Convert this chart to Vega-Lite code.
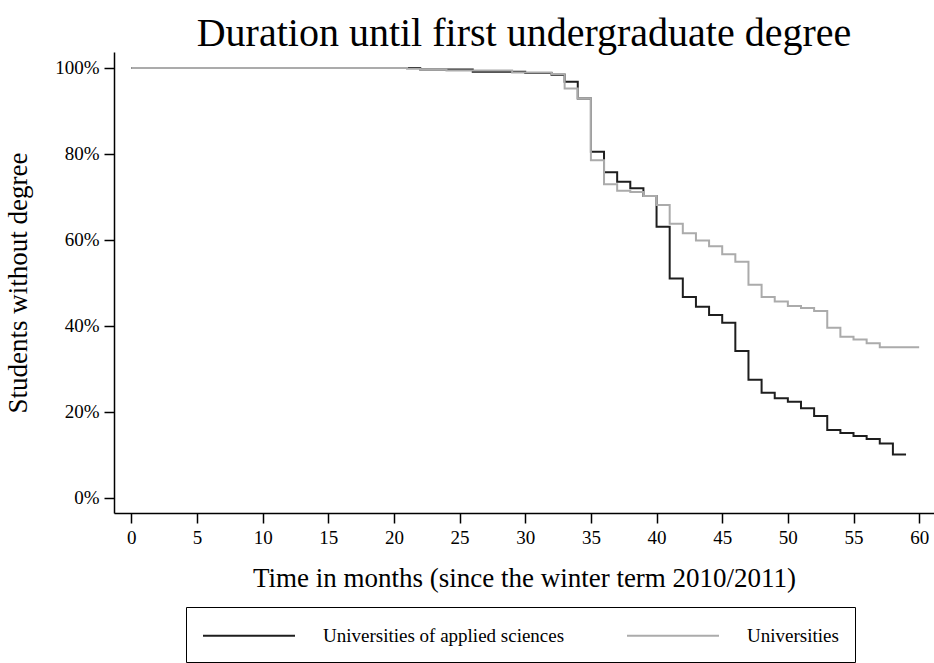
{
  "$schema": "https://vega.github.io/schema/vega-lite/v6.json",
  "width": 820,
  "height": 461,
  "autosize": {"type": "none"},
  "padding": {"left": 114, "top": 52, "right": 0, "bottom": 150},
  "title": {"text": "Duration until first undergraduate degree", "fontSize": 40, "font": "Liberation Serif", "fontWeight": "normal", "color": "#000", "anchor": "middle", "offset": -2},
  "data": {"values": [
    {"month": 0, "share": 100, "type": "Universities of applied sciences"},
    {"month": 22, "share": 99.6, "type": "Universities of applied sciences"},
    {"month": 26, "share": 99.1, "type": "Universities of applied sciences"},
    {"month": 30, "share": 98.8, "type": "Universities of applied sciences"},
    {"month": 32, "share": 98.4, "type": "Universities of applied sciences"},
    {"month": 33, "share": 96.8, "type": "Universities of applied sciences"},
    {"month": 34, "share": 92.9, "type": "Universities of applied sciences"},
    {"month": 35, "share": 80.5, "type": "Universities of applied sciences"},
    {"month": 36, "share": 75.7, "type": "Universities of applied sciences"},
    {"month": 37, "share": 73.5, "type": "Universities of applied sciences"},
    {"month": 38, "share": 72.0, "type": "Universities of applied sciences"},
    {"month": 39, "share": 70.2, "type": "Universities of applied sciences"},
    {"month": 40, "share": 63.0, "type": "Universities of applied sciences"},
    {"month": 41, "share": 51.0, "type": "Universities of applied sciences"},
    {"month": 42, "share": 46.7, "type": "Universities of applied sciences"},
    {"month": 43, "share": 44.4, "type": "Universities of applied sciences"},
    {"month": 44, "share": 42.5, "type": "Universities of applied sciences"},
    {"month": 45, "share": 40.7, "type": "Universities of applied sciences"},
    {"month": 46, "share": 34.1, "type": "Universities of applied sciences"},
    {"month": 47, "share": 27.4, "type": "Universities of applied sciences"},
    {"month": 48, "share": 24.4, "type": "Universities of applied sciences"},
    {"month": 49, "share": 23.1, "type": "Universities of applied sciences"},
    {"month": 50, "share": 22.3, "type": "Universities of applied sciences"},
    {"month": 51, "share": 20.8, "type": "Universities of applied sciences"},
    {"month": 52, "share": 19.0, "type": "Universities of applied sciences"},
    {"month": 53, "share": 15.7, "type": "Universities of applied sciences"},
    {"month": 54, "share": 15.0, "type": "Universities of applied sciences"},
    {"month": 55, "share": 14.3, "type": "Universities of applied sciences"},
    {"month": 56, "share": 13.6, "type": "Universities of applied sciences"},
    {"month": 57, "share": 12.6, "type": "Universities of applied sciences"},
    {"month": 58, "share": 10.0, "type": "Universities of applied sciences"},
    {"month": 59, "share": 10.0, "type": "Universities of applied sciences"},
    {"month": 0, "share": 100, "type": "Universities"},
    {"month": 21, "share": 99.8, "type": "Universities"},
    {"month": 22, "share": 99.6, "type": "Universities"},
    {"month": 24, "share": 99.4, "type": "Universities"},
    {"month": 29, "share": 98.9, "type": "Universities"},
    {"month": 32, "share": 98.6, "type": "Universities"},
    {"month": 33, "share": 95.2, "type": "Universities"},
    {"month": 34, "share": 92.9, "type": "Universities"},
    {"month": 35, "share": 78.5, "type": "Universities"},
    {"month": 36, "share": 72.9, "type": "Universities"},
    {"month": 37, "share": 71.4, "type": "Universities"},
    {"month": 38, "share": 71.1, "type": "Universities"},
    {"month": 39, "share": 70.2, "type": "Universities"},
    {"month": 40, "share": 68.1, "type": "Universities"},
    {"month": 41, "share": 63.7, "type": "Universities"},
    {"month": 42, "share": 61.5, "type": "Universities"},
    {"month": 43, "share": 59.8, "type": "Universities"},
    {"month": 44, "share": 58.5, "type": "Universities"},
    {"month": 45, "share": 56.6, "type": "Universities"},
    {"month": 46, "share": 54.9, "type": "Universities"},
    {"month": 47, "share": 49.5, "type": "Universities"},
    {"month": 48, "share": 46.7, "type": "Universities"},
    {"month": 49, "share": 45.6, "type": "Universities"},
    {"month": 50, "share": 44.6, "type": "Universities"},
    {"month": 51, "share": 44.1, "type": "Universities"},
    {"month": 52, "share": 43.4, "type": "Universities"},
    {"month": 53, "share": 39.5, "type": "Universities"},
    {"month": 54, "share": 37.4, "type": "Universities"},
    {"month": 55, "share": 36.8, "type": "Universities"},
    {"month": 56, "share": 35.9, "type": "Universities"},
    {"month": 57, "share": 35.0, "type": "Universities"},
    {"month": 60, "share": 35.0, "type": "Universities"}
  ]},
  "encoding": {
    "x": {"field": "month", "type": "quantitative", "scale": {"domain": [-1.32, 61.13], "nice": false, "zero": false},
          "axis": {"values": [0, 5, 10, 15, 20, 25, 30, 35, 40, 45, 50, 55, 60], "title": "Time in months (since the winter term 2010/2011)"}},
    "y": {"field": "share", "type": "quantitative", "scale": {"domain": [-3.6, 103.7], "nice": false, "zero": false},
          "axis": {"values": [0, 20, 40, 60, 80, 100], "labelExpr": "datum.value + '%'", "title": "Students without degree"}},
    "color": {"field": "type", "type": "nominal",
              "scale": {"domain": ["Universities of applied sciences", "Universities"], "range": ["#1e1e1e", "#ababab"]},
              "legend": {"orient": "none", "legendX": 72, "legendY": 555, "direction": "horizontal", "title": null,
                         "symbolType": "M-1,0H7", "symbolSize": 529, "symbolStrokeWidth": 2, "labelOffset": 96,
                         "labelFontSize": 19, "labelFont": "Liberation Serif", "labelColor": "#000", "labelLimit": 0, "columnPadding": 58,
                         "padding": 16, "strokeColor": "#000"}}
  },
  "layer": [
    {"transform": [{"filter": "datum.type == 'Universities of applied sciences'"}], "mark": {"type": "line", "interpolate": "step-after", "strokeWidth": 2}},
    {"transform": [{"filter": "datum.type == 'Universities'"}], "mark": {"type": "line", "interpolate": "step-after", "strokeWidth": 2}}
  ],
  "config": {
    "view": {"stroke": null},
    "axis": {"domainColor": "#000", "domainWidth": 1.5, "tickColor": "#000", "tickWidth": 1.5, "tickSize": 10,
             "labelFont": "Liberation Serif", "labelFontSize": 19, "labelColor": "#000",
             "titleFont": "Liberation Serif", "titleFontSize": 27, "titleFontWeight": "normal", "titleColor": "#000", "grid": false},
    "axisX": {"labelPadding": 5, "titlePadding": 18},
    "axisY": {"labelPadding": 5, "titlePadding": 22}
  }
}
